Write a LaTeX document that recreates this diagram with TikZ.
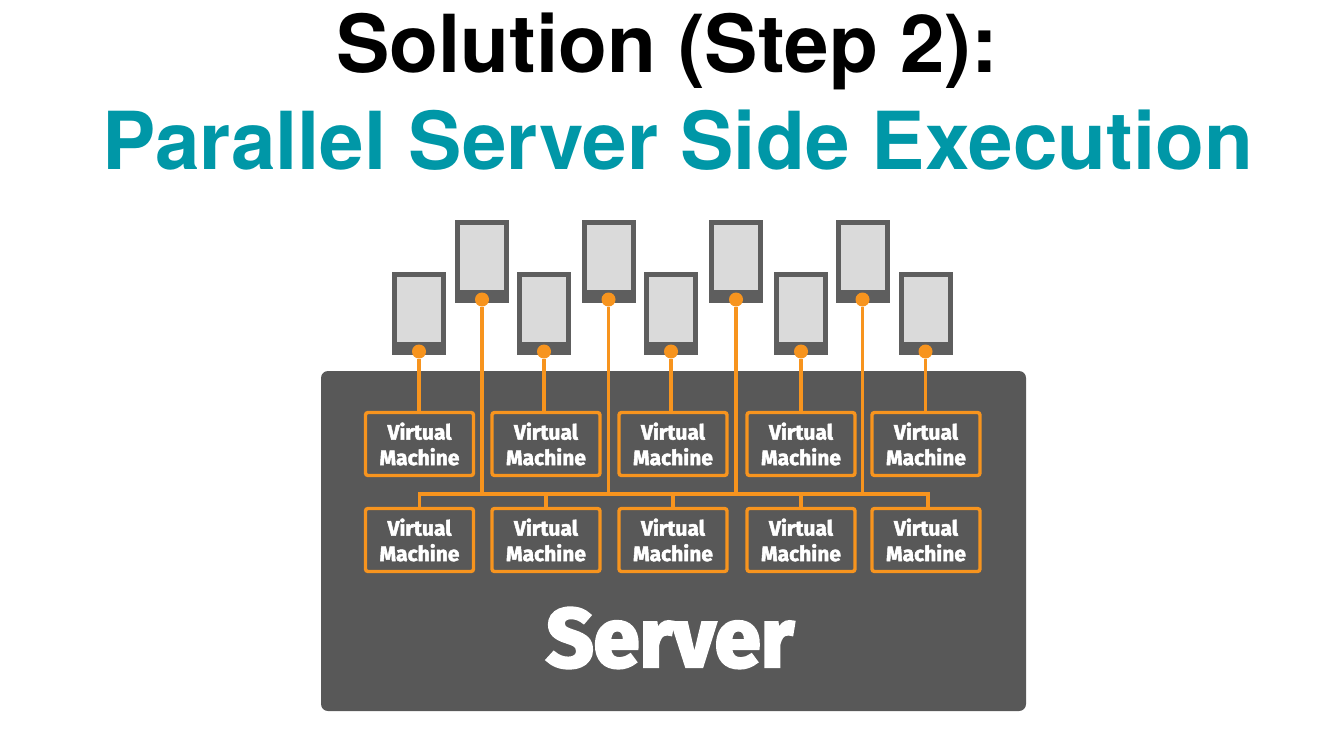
\documentclass[tikz,border=0pt]{standalone}
\usepackage{fontspec}
\setmainfont{TeX Gyre Heros}
\newfontfamily\vmfont[FakeBold=2.2]{Fira Sans Bold}
\newfontfamily\srvfont[FakeBold=3.5]{Fira Sans Bold}
\definecolor{srvgray}{HTML}{585858}
\definecolor{tabgray}{HTML}{5E5E5E}
\definecolor{scr}{HTML}{DADADA}
\definecolor{org}{HTML}{F7941E}
\definecolor{teal}{HTML}{0097A7}
\tikzset{
  x=1pt,y=-1pt,
  title/.style={font=\fontsize{80}{80}\selectfont\bfseries,anchor=base,inner sep=0pt},
  tablet/.style={fill=tabgray,draw=none},
  screen/.style={fill=scr,draw=none},
  link/.style={draw=org,line width=3.3pt},
  vm/.style={draw=org,line width=3.4pt,rounded corners=2.5pt,fill=srvgray,minimum width=108pt,minimum height=63pt,inner sep=0pt,outer sep=0pt,text=white,align=center,font=\vmfont\fontsize{21}{25.5}\selectfont},
  dot/.style={circle,fill=org,minimum size=14pt,inner sep=0pt,outer sep=0pt},
}
\newcommand{\tablet}[3]{%
  \fill[tablet] (#1,#2) rectangle ++(54,83);
  \fill[screen] (#1+5,#2+5) rectangle ++(44,65);
  \node[dot] (#3) at (#1+27,#2+79.5) {};
}
\begin{document}
\begin{tikzpicture}
\useasboundingbox (0,0) rectangle (1334,742);
\node[title] (t1) at (667,72) {Solution (Step 2):};
\node[title,text=teal] (t2) at (677.5,169) {Parallel Server Side Execution};
\fill[srvgray,rounded corners=7pt] (321,371) rectangle (1026,711);
\tablet{392}{272}{d1}
\tablet{517}{272}{d2}
\tablet{644}{272}{d3}
\tablet{774}{272}{d4}
\tablet{898.5}{272}{d5}
\tablet{455}{220}{h1}
\tablet{581.5}{220}{h2}
\tablet{709}{220}{h3}
\tablet{835.5}{220}{h4}
\node[vm] (a1) at (419.5,444) {Virtual\\Machine};
\node[vm] (a2) at (546,444) {Virtual\\Machine};
\node[vm] (a3) at (673,444) {Virtual\\Machine};
\node[vm] (a4) at (801,444) {Virtual\\Machine};
\node[vm] (a5) at (926,444) {Virtual\\Machine};
\node[vm] (b1) at (419.5,540) {Virtual\\Machine};
\node[vm] (b2) at (546,540) {Virtual\\Machine};
\node[vm] (b3) at (673,540) {Virtual\\Machine};
\node[vm] (b4) at (801,540) {Virtual\\Machine};
\node[vm] (b5) at (926,540) {Virtual\\Machine};
\draw[link] (d1) -- (d1|-a1.north);
\draw[link] (d2) -- (d2|-a2.north);
\draw[link] (d3) -- (d3|-a3.north);
\draw[link] (d4) -- (d4|-a4.north);
\draw[link] (d5) -- (d5|-a5.north);
\coordinate (busl) at (419.5,494);
\coordinate (busr) at (928,494);
\draw[link] (b1.north-|busl) -- (busl) -- (busr) -- (b5.north-|busr);
\draw[link] (b2.north) -- (b2.north|-busl);
\draw[link] (b3.north) -- (b3.north|-busl);
\draw[link] (b4.north) -- (b4.north|-busl);
\draw[link] (h1) -- (h1|-busl);
\draw[link] (h2) -- (h2|-busl);
\draw[link] (h3) -- (h3|-busl);
\draw[link] (h4) -- (h4|-busl);
\node[text=white,inner sep=0pt,font=\srvfont\fontsize{83}{83}\selectfont] (srv) at (670,638) {Server};
\end{tikzpicture}
\end{document}
